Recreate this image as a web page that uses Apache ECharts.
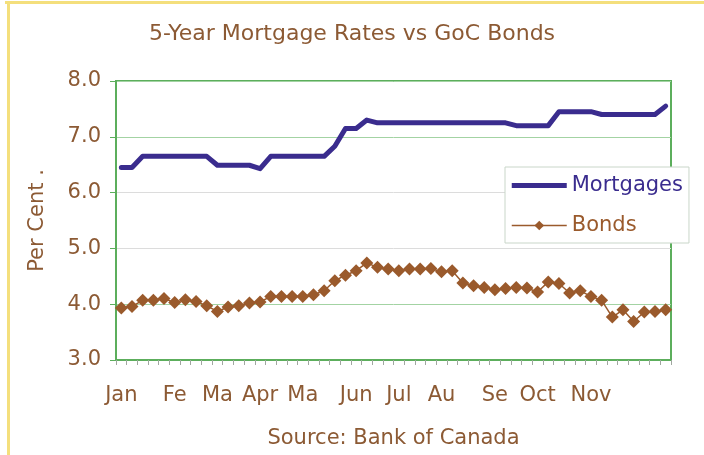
<!DOCTYPE html>
<html>
<head>
<meta charset="utf-8">
<title>5-Year Mortgage Rates vs GoC Bonds</title>
<script src="https://cdn.jsdelivr.net/npm/echarts@6/dist/echarts.min.js"></script>
<style>
  html, body { margin: 0; padding: 0; background: #fff; }
  #chart { width: 704px; height: 455px; }
</style>
</head>
<body>
<div id="chart"></div>
<script>
// weekly observations, one category per week
const weeks = Array.from({ length: 52 }, (_, i) => 'Week ' + (i + 1))
// month names as printed under the axis, and the week each one sits on
const monthLabels = ['Jan', 'Fe', 'Ma', 'Apr', 'Ma', 'Jun', 'Jul', 'Au', 'Se', 'Oct', 'Nov']
const monthFirstWeek = [0, 5, 9, 13, 17, 22, 26, 30, 35, 39, 44]

const mortgages = [
  6.45, 6.45, 6.65, 6.65, 6.65, 6.65, 6.65, 6.65, 6.65, 6.49,
  6.49, 6.49, 6.49, 6.43, 6.65, 6.65, 6.65, 6.65, 6.65, 6.65,
  6.83, 7.15, 7.15, 7.30, 7.25, 7.25, 7.25, 7.25, 7.25, 7.25,
  7.25, 7.25, 7.25, 7.25, 7.25, 7.25, 7.25, 7.20, 7.20, 7.20,
  7.20, 7.45, 7.45, 7.45, 7.45, 7.40, 7.40, 7.40, 7.40, 7.40,
  7.40, 7.55,
]
const bonds = [
  3.93, 3.96, 4.07, 4.07, 4.10, 4.03, 4.08, 4.05, 3.97, 3.87,
  3.95, 3.97, 4.02, 4.04, 4.14, 4.14, 4.14, 4.14, 4.17, 4.24,
  4.42, 4.52, 4.60, 4.74, 4.66, 4.63, 4.60, 4.63, 4.63, 4.64,
  4.58, 4.60, 4.38, 4.33, 4.30, 4.26, 4.28, 4.30, 4.29, 4.22,
  4.40, 4.37, 4.20, 4.24, 4.14, 4.07, 3.77, 3.90, 3.69, 3.86,
  3.87, 3.90,
]

const brown = '#8c5a34'
const navy = '#3a2c8e'
const bondBrown = '#9a5a2c'
const green = '#5cae5c'
const font = 'DejaVu Sans'

const chart = echarts.init(document.getElementById('chart'))

function monthAt(index) {
  const pos = monthFirstWeek.indexOf(index)
  return pos >= 0 ? monthLabels[pos] : ''
}

chart.setOption({
  animation: false,
  textStyle: { fontFamily: font },
  title: {
    text: '5-Year Mortgage Rates vs GoC Bonds',
    left: 'center',
    top: 18,
    textStyle: { color: brown, fontSize: 22, fontWeight: 'normal', fontFamily: font },
  },
  graphic: [
    { type: 'rect', left: 5, top: 1, shape: { width: 699, height: 3 }, style: { fill: '#f4df7c' }, silent: true },
    { type: 'rect', left: 7, top: 1, shape: { width: 3, height: 454 }, style: { fill: '#f4df7c' }, silent: true },
  ],
  legend: {
    orient: 'vertical',
    left: 505,
    top: 167,
    padding: [8, 6, 7, 6],
    itemWidth: 55,
    itemHeight: 12,
    itemGap: 19,
    backgroundColor: '#fff',
    borderColor: '#c9d6c9',
    borderWidth: 1,
    lineStyle: { width: 'inherit' },
    textStyle: { fontSize: 21, fontFamily: font },
    data: [
      { name: 'Mortgages', icon: 'path://M0,0H110V10H0Z', textStyle: { color: navy } },
      { name: 'Bonds', textStyle: { color: bondBrown } },
    ],
  },
  grid: {
    left: 116,
    right: 33,
    top: 81,
    bottom: 95,
    show: true,
    borderColor: green,
    borderWidth: 2,
    containLabel: false,
  },
  xAxis: {
    type: 'category',
    data: weeks,
    boundaryGap: true,
    name: 'Source: Bank of Canada',
    nameLocation: 'middle',
    nameGap: 68,
    nameTextStyle: { color: brown, fontSize: 21, fontFamily: font },
    axisLine: { lineStyle: { color: green, width: 2 } },
    axisTick: { show: true, interval: 0, length: 5, lineStyle: { color: '#a0a8a0' } },
    axisLabel: {
      interval: 0,
      color: brown,
      fontSize: 21,
      margin: 25,
      fontFamily: font,
      formatter: (value, index) => monthAt(index),
    },
    splitLine: { show: false },
  },
  yAxis: {
    type: 'value',
    min: 3,
    max: 8,
    interval: 1,
    name: 'Per Cent .',
    nameLocation: 'middle',
    nameGap: 68,
    nameRotate: 90,
    nameTextStyle: { color: brown, fontSize: 21, fontFamily: font },
    axisLine: { show: true, lineStyle: { color: green, width: 2 } },
    axisTick: { show: true, length: 6, lineStyle: { color: green } },
    axisLabel: { color: brown, fontSize: 21, margin: 15, fontFamily: font, formatter: (v) => v.toFixed(1) },
    splitLine: {
      lineStyle: { color: ['#a3d3a3', '#a3d3a3', '#dcdcdc', '#dcdcdc', '#a3d3a3', '#a3d3a3'], width: 1 },
    },
  },
  series: [
    {
      name: 'Mortgages',
      type: 'line',
      data: mortgages,
      symbol: 'none',
      lineStyle: { color: navy, width: 5, cap: 'round', join: 'round' },
      itemStyle: { color: navy },
      z: 3,
    },
    {
      name: 'Bonds',
      type: 'line',
      data: bonds,
      symbol: 'diamond',
      symbolSize: 13,
      lineStyle: { color: bondBrown, width: 1.5 },
      itemStyle: { color: bondBrown },
      z: 2,
    },
  ],
})
</script>
</body>
</html>
